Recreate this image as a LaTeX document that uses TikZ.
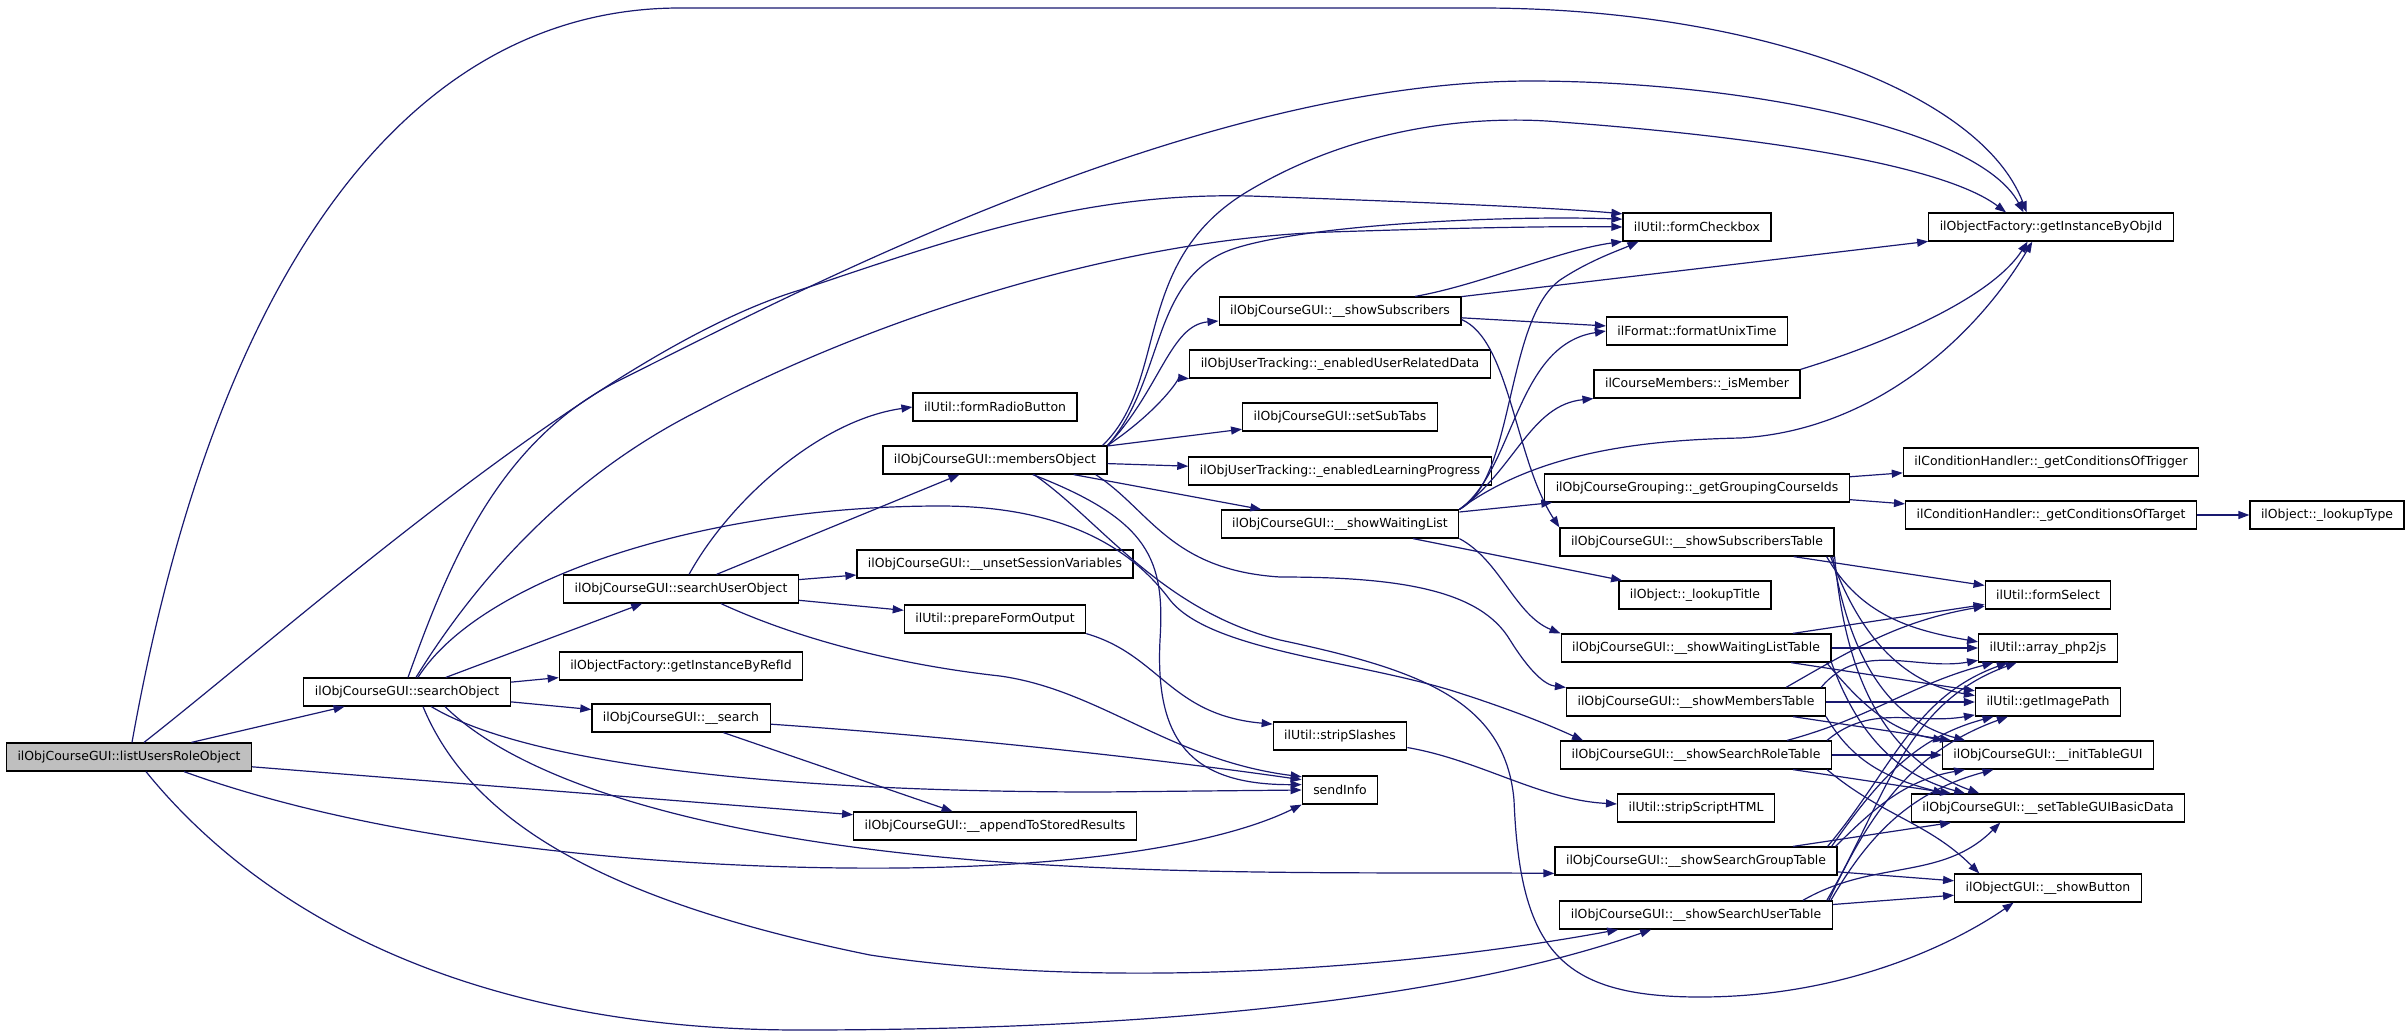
\documentclass[tikz,border=0pt]{standalone}
\usepackage{fontspec}
\setmainfont{DejaVu Sans}
\usetikzlibrary{arrows.meta}
\definecolor{callblue}{HTML}{191970}
\definecolor{rootgray}{HTML}{BFBFBF}
\begin{document}
\begin{tikzpicture}[x=1bp, y=-1bp,
  every node/.style={draw, rectangle, line width=1.2bp, fill=white, font=\fontsize{12.5}{14}\selectfont, minimum height=28bp, inner xsep=11bp, inner ysep=0pt},
  root/.style={fill=rootgray},
  call/.style={draw=callblue, line width=1.2bp, -{Triangle[length=11bp, width=8bp]}}]
\useasboundingbox (0,0) rectangle (2405,1033);

\node[root] (lro) at (129,757) {ilObjCourseGUI::listUsersRoleObject};
\node (so) at (407,692) {ilObjCourseGUI::searchObject};
\node (suo) at (681,589) {ilObjCourseGUI::searchUserObject};
\node (refid) at (681,666) {ilObjectFactory::getInstanceByRefId};
\node (srch) at (681,718) {ilObjCourseGUI::\_\_search};
\node (radio) at (995,407) {ilUtil::formRadioButton};
\node (mo) at (995,460) {ilObjCourseGUI::membersObject};
\node (unset) at (995,564) {ilObjCourseGUI::\_\_unsetSessionVariables};
\node (prep) at (995,619) {ilUtil::prepareFormOutput};
\node (append) at (995,826) {ilObjCourseGUI::\_\_appendToStoredResults};
\node (subs) at (1340,311) {ilObjCourseGUI::\_\_showSubscribers};
\node (eurd) at (1340,364) {ilObjUserTracking::\_enabledUserRelatedData};
\node (subtabs) at (1340,417) {ilObjCourseGUI::setSubTabs};
\node (elp) at (1340,471) {ilObjUserTracking::\_enabledLearningProgress};
\node (swl) at (1340,524) {ilObjCourseGUI::\_\_showWaitingList};
\node (strip) at (1340,736) {ilUtil::stripSlashes};
\node (send) at (1340,790) {sendInfo};
\node (check) at (1697,227) {ilUtil::formCheckbox};
\node (unix) at (1697,331) {ilFormat::formatUnixTime};
\node (ismember) at (1697,384) {ilCourseMembers::\_isMember};
\node (grouping) at (1697,488) {ilObjCourseGrouping::\_getGroupingCourseIds};
\node (subtab) at (1697,542) {ilObjCourseGUI::\_\_showSubscribersTable};
\node (ltitle) at (1695,595) {ilObject::\_lookupTitle};
\node (wltab) at (1696,648) {ilObjCourseGUI::\_\_showWaitingListTable};
\node (memtab) at (1696,702) {ilObjCourseGUI::\_\_showMembersTable};
\node (roletab) at (1696,755) {ilObjCourseGUI::\_\_showSearchRoleTable};
\node (html) at (1696,808) {ilUtil::stripScriptHTML};
\node (grptab) at (1696,861) {ilObjCourseGUI::\_\_showSearchGroupTable};
\node (usrtab) at (1696,915) {ilObjCourseGUI::\_\_showSearchUserTable};
\node (objid) at (2051,227) {ilObjectFactory::getInstanceByObjId};
\node (trigger) at (2051,462) {ilConditionHandler::\_getConditionsOfTrigger};
\node (target) at (2051,515) {ilConditionHandler::\_getConditionsOfTarget};
\node (ltype) at (2327,515) {ilObject::\_lookupType};
\node (fselect) at (2048,595) {ilUtil::formSelect};
\node (php2js) at (2048,648) {ilUtil::array\_php2js};
\node (imgpath) at (2048,702) {ilUtil::getImagePath};
\node (inittab) at (2048,755) {ilObjCourseGUI::\_\_initTableGUI};
\node (basic) at (2048,808) {ilObjCourseGUI::\_\_setTableGUIBasicData};
\node (button) at (2048,888) {ilObjectGUI::\_\_showButton};

\draw[call] (lro) -- (so);
\draw[call] (lro) -- (append);
\draw[call] ([xshift=3bp]lro.north) .. controls (220,250) and (420,8) .. (680,8) -- (1480,8) .. controls (1750,8) and (1980,90) .. (objid.149);
\draw[call] ([xshift=15bp]lro.north) .. controls (300,620) and (600,350) .. (800,290) .. controls (950,240) and (1080,192) .. (1250,196) .. controls (1420,202) and (1560,208) .. (check.170);
\draw[call] ([xshift=55bp]lro.south) .. controls (400,850) and (700,870) .. (900,868) .. controls (1100,866) and (1230,840) .. (send.south west);
\draw[call] ([xshift=17bp]lro.south) .. controls (250,900) and (450,1030) .. (800,1030) .. controls (1150,1030) and (1450,1000) .. ([xshift=92bp]usrtab.south west);

\draw[call] (so) -- (suo);
\draw[call] (so) -- (refid);
\draw[call] (so) -- (srch);
\draw[call] ([xshift=1bp]so.north) .. controls (450,560) and (500,440) .. (620,380) .. controls (800,290) and (1200,80) .. (1534,81) .. controls (1750,82) and (1980,130) .. (objid.152);
\draw[call] ([xshift=9bp]so.north) .. controls (470,590) and (560,480) .. (700,410) .. controls (850,330) and (1100,240) .. (1330,232) .. controls (1450,228) and (1560,226) .. (check.west);
\draw[call] ([xshift=11bp]so.north) .. controls (480,580) and (700,506) .. (940,506) .. controls (1080,506) and (1140,560) .. (1170,600) .. controls (1210,650) and (1350,660) .. (1450,690) .. controls (1520,712) and (1560,730) .. ([xshift=23bp]roletab.north west);
\draw[call] (so) .. controls (520,760) and (750,792) .. (1100,792) -- (send.180);
\draw[call] ([xshift=38bp]so.south) .. controls (520,780) and (700,840) .. (1000,862) .. controls (1200,876) and (1400,872) .. (grptab.185);
\draw[call] ([xshift=16bp]so.south) .. controls (470,820) and (600,900) .. (870,955) .. controls (1100,990) and (1400,970) .. ([xshift=59bp]usrtab.south west);

\draw[call] (srch) -- (append);
\draw[call] (srch) .. controls (1000,740) and (1200,765) .. (send.165);

\draw[call] (suo) .. controls (730,500) and (820,420) .. (radio.west);
\draw[call] (suo) -- (mo);
\draw[call] (suo) -- (unset);
\draw[call] (suo) -- (prep);
\draw[call] ([xshift=40bp]suo.south) .. controls (800,640) and (900,665) .. (1000,676) .. controls (1100,690) and (1170,760) .. (send.161);
\draw[call] (prep.south east) .. controls (1160,655) and (1170,715) .. (strip.170);
\draw[call] (strip) .. controls (1480,760) and (1540,800) .. (html);

\draw[call] (mo.north east) .. controls (1160,390) and (1170,325) .. (subs);
\draw[call] (mo.north east) .. controls (1160,410) and (1180,378) .. (eurd.south west);
\draw[call] (mo) -- (subtabs);
\draw[call] (mo) -- (elp);
\draw[call] (mo) -- (swl);
\draw[call] (mo.north east) .. controls (1165,380) and (1150,280) .. (1230,250) .. controls (1300,225) and (1500,215) .. (check.174);
\draw[call] ([xshift=-5bp]mo.north east) .. controls (1170,380) and (1130,260) .. (1250,190) .. controls (1360,125) and (1480,115) .. (1560,122) .. controls (1800,140) and (1950,170) .. (objid.162);
\draw[call] ([xshift=-12bp]mo.south east) .. controls (1150,510) and (1170,570) .. (1280,577) .. controls (1400,577) and (1480,590) .. (1510,640) .. controls (1530,672) and (1545,685) .. (memtab.north west);
\draw[call] (mo) .. controls (1150,520) and (1165,560) .. (1160,640) .. controls (1155,740) and (1190,785) .. (send.172);
\draw[call] ([xshift=39bp]mo.south) .. controls (1100,520) and (1160,610) .. (1280,640) .. controls (1420,670) and (1505,700) .. (1514,800) .. controls (1520,950) and (1560,997) .. (1700,997) .. controls (1850,997) and (1960,940) .. (button.203);

\draw[call] (subs.11) .. controls (1480,285) and (1560,250) .. (check.191);
\draw[call] (subs) -- (objid);
\draw[call] (subs) -- (unix);
\draw[call] (subs.-4) .. controls (1510,340) and (1515,460) .. (subtab.north west);

\draw[call] (swl) -- (grouping);
\draw[call] (swl.north east) .. controls (1515,480) and (1505,320) .. (1560,280) .. controls (1590,260) and (1620,250) .. (check.194);
\draw[call] (swl.north east) .. controls (1515,470) and (1515,345) .. (unix.west);
\draw[call] (swl.north east) .. controls (1515,470) and (1530,405) .. (ismember.south west);
\draw[call] (swl.north east) .. controls (1540,450) and (1650,440) .. (1740,438) .. controls (1880,430) and (1980,330) .. (objid.218);
\draw[call] (swl) -- (ltitle);
\draw[call] (swl.south east) .. controls (1500,560) and (1515,615) .. (wltab.north west);

\draw[call] (ismember.north east) .. controls (1880,345) and (1990,300) .. (objid.212);
\draw[call] (grouping) -- (trigger);
\draw[call] (grouping) -- (target);
\draw[call] (target) -- (ltype);

\draw[call] (subtab) -- (fselect);
\draw[call] ([xshift=-8bp]subtab.south east) to[out=-60,in=170] (php2js.175);
\draw[call] ([xshift=-4bp]subtab.south east) to[out=-70,in=170] (imgpath.175);
\draw[call] ([xshift=-2bp]subtab.south east) to[out=-80,in=165] (inittab.170);
\draw[call] (subtab.south east) to[out=-85,in=160] (basic.168);

\draw[call] (wltab) -- (fselect);
\draw[call] (wltab) -- (php2js);
\draw[call] (wltab) -- (imgpath);
\draw[call] ([xshift=-5bp]wltab.south east) to[out=-50,in=170] (inittab.172);
\draw[call] (wltab.south east) to[out=-70,in=165] (basic.170);

\draw[call] ([xshift=-40bp]memtab.north east) to[out=30,in=190] (fselect.190);
\draw[call] ([xshift=-5bp]memtab.north east) to[out=50,in=190] (php2js.190);
\draw[call] (memtab) -- (imgpath);
\draw[call] (memtab) -- (inittab);
\draw[call] (memtab.south east) to[out=-60,in=165] (basic.172);

\draw[call] ([xshift=-45bp]roletab.north east) to[out=15,in=195] (php2js.195);
\draw[call] ([xshift=-5bp]roletab.north east) to[out=40,in=190] (imgpath.190);
\draw[call] (roletab) -- (inittab);
\draw[call] (roletab) -- (basic);
\draw[call] ([xshift=-5bp]roletab.south east) to[out=-40,in=135] (button.168);

\draw[call] ([xshift=-10bp]grptab.north east) to[out=50,in=200] (php2js.200);
\draw[call] ([xshift=-6bp]grptab.north east) to[out=55,in=195] (imgpath.195);
\draw[call] ([xshift=-2bp]grptab.north east) to[out=45,in=190] (inittab.190);
\draw[call] (grptab) -- (basic);
\draw[call] (grptab) -- (button);

\draw[call] ([xshift=-6bp]usrtab.north east) to[out=60,in=200] (php2js.205);
\draw[call] ([xshift=-4bp]usrtab.north east) to[out=65,in=200] (imgpath.200);
\draw[call] ([xshift=-2bp]usrtab.north east) to[out=60,in=195] (inittab.195);
\draw[call] ([xshift=-30bp]usrtab.north east) to[out=30,in=225] (basic.197);
\draw[call] (usrtab) -- (button);
\end{tikzpicture}
\end{document}
